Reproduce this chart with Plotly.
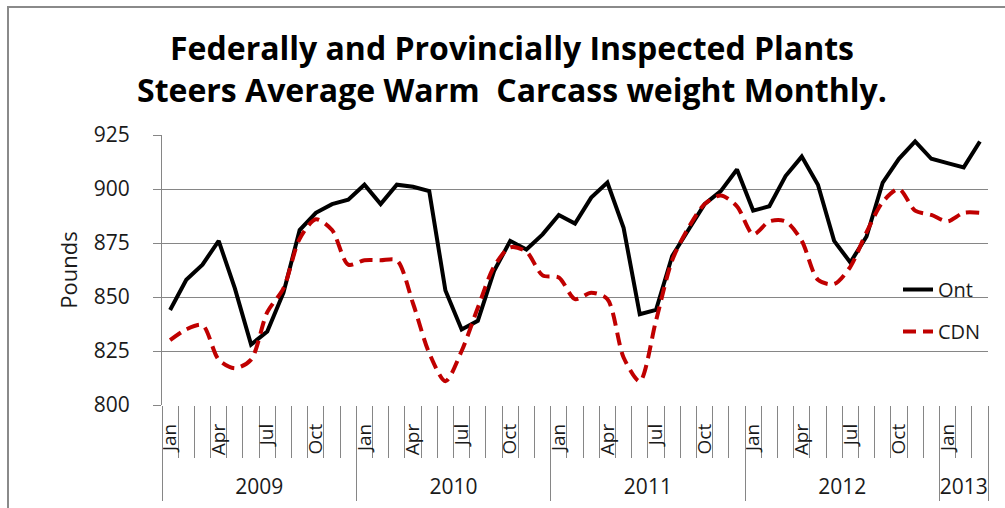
import plotly.graph_objects as go

# ---------------- data ----------------
years = [2009]*12 + [2010]*12 + [2011]*12 + [2012]*12 + [2013]*3
months = ["Jan", "Feb", "Mar", "Apr", "May", "Jun", "Jul", "Aug", "Sep", "Oct", "Nov", "Dec"]*4 + ["Jan", "Feb", "Mar"]
shown_months = ["Jan", "Apr", "Jul", "Oct"]

ont = [844, 858, 865, 876, 854, 828, 834, 852, 881, 889, 893, 895,
       902, 893, 902, 901, 899, 853, 835, 839, 862, 876, 872, 879,
       888, 884, 896, 903, 882, 842, 844, 869, 881, 893, 899, 909,
       890, 892, 906, 915, 902, 876, 866, 878, 903, 914, 922, 914,
       912, 910, 922]

cdn = [830, 835, 837, 821, 817, 821, 843, 854, 877, 886, 881, 865,
       867, 867, 867, 847, 824, 811, 825, 845, 864, 873, 871, 860,
       859, 849, 852, 849, 822, 811, 839, 867, 882, 893, 897, 892,
       879, 885, 885, 876, 858, 856, 864, 880, 894, 900, 890, 888,
       885, 889, 889]

title_line1 = "Federally and Provincially Inspected Plants"
title_line2 = "Steers Average Warm\u00a0 Carcass weight Monthly."
y_title = "Pounds"

# ---------------- layout helpers ----------------
W, H = 1005, 508
L, R, T, B = 162, 17, 135, 103
PW, PH = W - L - R, H - T - B


def px_x(px):
    return (px - L) / PW


def px_y(py):
    return (H - B - py) / PH


FONT = "Open Sans, Noto Sans, sans-serif"
GRID = "#868686"
TXT = "#1a1a1a"

idx = list(range(len(months)))
n = len(idx)
quarter_idx = [i for i in idx if months[i] in shown_months]
quarter_txt = [months[i] for i in quarter_idx]
uniq_years = sorted(set(years))
year_centers = [sum(i for i in idx if years[i] == yv) / years.count(yv) for yv in uniq_years]
year_bounds = [-0.5] + [i - 0.5 for i in idx[1:] if years[i] != years[i - 1]] + [n - 0.5]
month_bounds = [i - 0.5 for i in range(n + 1)]
xr = [-0.5, n - 0.5]

fig = go.Figure()
fig.add_trace(go.Scatter(x=idx, y=ont, name="Ont", mode="lines", legendgroup="a",
                         line=dict(color="#000000", width=4)))
fig.add_trace(go.Scatter(x=idx, y=cdn, name="CDN", mode="lines", legendgroup="b", xaxis="x2",
                         line=dict(color="#C00000", width=4, dash="13px,7px", shape="spline", smoothing=0.8)))

fig.update_layout(
    width=W, height=H,
    margin=dict(l=L, r=R, t=T, b=B, pad=0),
    paper_bgcolor="white", plot_bgcolor="white",
    font=dict(family=FONT, color=TXT, size=20),
    showlegend=True,
    legend=dict(x=px_x(898), y=px_y(270), xanchor="left", yanchor="top",
                bgcolor="rgba(0,0,0,0)", font=dict(size=20, color=TXT),
                traceorder="grouped", tracegroupgap=13),
    xaxis=dict(range=xr, tickmode="array", tickvals=quarter_idx, ticktext=quarter_txt,
               tickangle=-90, ticks="", showgrid=False, zeroline=False, showline=False,
               automargin=False, tickfont=dict(size=19), ticklabelstandoff=14,
               minor=dict(tickmode="array", tickvals=month_bounds, ticks="outside", ticklen=52,
                          tickcolor=GRID, tickwidth=1, showgrid=False)),
    xaxis2=dict(overlaying="x", anchor="y", side="bottom", range=xr, tickmode="array",
                tickvals=year_centers, ticktext=[str(v) for v in uniq_years], ticks="",
                showgrid=False, zeroline=False, showline=False, automargin=False,
                tickfont=dict(size=21), ticklabelstandoff=67,
                minor=dict(tickmode="array", tickvals=year_bounds, ticks="outside", ticklen=95,
                           tickcolor=GRID, tickwidth=1, showgrid=False)),
    yaxis=dict(range=[800, 925], tick0=800, dtick=25, showgrid=True, gridcolor=GRID, gridwidth=1,
               ticks="outside", ticklen=8, tickcolor=GRID, showline=True, linecolor=GRID, linewidth=1,
               zeroline=False, automargin=False, tickfont=dict(size=21), ticklabelstandoff=19,
               title=dict(text=y_title, font=dict(size=22), standoff=10)),
    annotations=[
        dict(text="<b>" + title_line1 + "</b>", x=px_x(512), y=px_y(47), xref="paper", yref="paper",
             showarrow=False, xanchor="center", yanchor="middle", font=dict(size=32, color="#000")),
        dict(text="<b>" + title_line2 + "</b>", x=px_x(512), y=px_y(89), xref="paper", yref="paper",
             showarrow=False, xanchor="center", yanchor="middle", font=dict(size=32, color="#000")),
    ],
    shapes=[dict(type="rect", xref="paper", yref="paper", x0=px_x(8), x1=px_x(1012), y0=px_y(520), y1=px_y(7),
                 line=dict(color="#8a8a8a", width=2), fillcolor="rgba(0,0,0,0)", layer="below")],
)

fig.write_html("out.html", config={"displayModeBar": False},
               post_script="document.body.style.margin='0';document.body.style.overflow='hidden';")
